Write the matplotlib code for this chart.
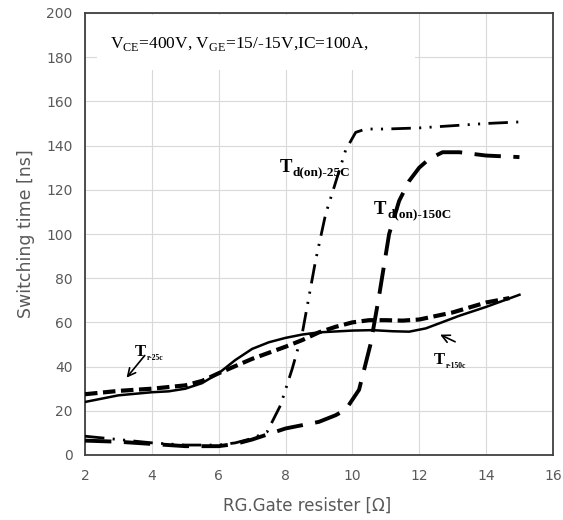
import matplotlib
matplotlib.use("Agg")
import matplotlib.pyplot as plt
from matplotlib.patches import Rectangle

plt.rcParams['lines.scale_dashes'] = False
plt.rcParams['mathtext.fontset'] = 'custom'
plt.rcParams['mathtext.rm'] = 'Liberation Serif'
plt.rcParams['mathtext.bf'] = 'Liberation Serif:bold'

# ---- data ----
td25_x = [2, 3, 4, 5, 6, 6.5, 7, 7.45, 7.85, 8.2, 8.5, 8.9, 9.2, 9.45, 9.8, 10.1, 10.4, 11, 12, 13, 14, 15]
td25_y = [8.5, 7, 5.5, 4.5, 4.5, 5.5, 7.5, 10.5, 22.5, 39, 55, 88, 109, 121, 138, 146, 147.5, 147.5, 148, 149, 150, 150.7]

td150_x = [2, 3, 4, 5, 6, 6.5, 7, 7.5, 8, 9, 9.5, 9.8, 10.2, 10.55, 10.8, 11.1, 11.4, 11.7, 12, 12.3, 12.7, 13.2, 14, 15]
td150_y = [6.5, 6, 5, 4, 4, 5, 7, 9.5, 12, 15, 18, 20.5, 29.5, 50.5, 72, 100, 115, 124, 130, 134, 137, 137, 135.5, 134.8]

tr25_x = [2, 3, 4, 5, 5.5, 6, 7, 8, 8.5, 9, 9.5, 10, 10.5, 11, 11.5, 12, 13, 14, 14.7]
tr25_y = [27.5, 29, 30, 31.5, 33.5, 37, 43.5, 49, 52, 55.5, 58, 60, 61, 61, 60.8, 61.3, 64.5, 69, 71]

tr150_x = [2, 3, 4, 4.5, 5, 5.5, 6, 6.5, 7, 7.5, 8, 8.5, 9, 10, 10.6, 11.2, 11.7, 12.2, 13.2, 14, 15]
tr150_y = [24, 27, 28.4, 28.8, 30, 32.5, 37, 43, 48, 51, 53, 54.5, 55.5, 56.3, 56.5, 56, 55.8, 57.3, 63, 67, 72.5]

x_ticks = [2, 4, 6, 8, 10, 12, 14, 16]
y_ticks = [0, 20, 40, 60, 80, 100, 120, 140, 160, 180, 200]

fig = plt.figure(figsize=(5.63, 5.2), dpi=100)
ax = fig.add_axes([0.151, 0.125, 0.831, 0.85])
ax.set_xlim(2, 16)
ax.set_ylim(0, 200)
ax.set_xticks(x_ticks)
ax.set_yticks(y_ticks)
ax.grid(True, color='#d9d9d9', lw=0.8)
ax.set_axisbelow(True)
ax.tick_params(length=0, labelsize=10, labelcolor='#595959')
ax.tick_params(axis='x', pad=10)
ax.tick_params(axis='y', pad=9)
for s in ax.spines.values():
    s.set_color('#404040')
    s.set_linewidth(1.3)

# white background behind the condition text (hides grid there)
ax.add_patch(Rectangle((0.026, 0.871), 0.68, 0.125, transform=ax.transAxes,
                       facecolor='white', edgecolor='none', zorder=1.5))

k = 'black'
l1, = ax.plot(td25_x, td25_y, color=k, lw=2.0, zorder=3)
l1.set_dashes([14, 6, 1.5, 6, 1.5, 6])
l2, = ax.plot(td150_x, td150_y, color=k, lw=2.8, zorder=3)
l2.set_dashes([19, 9])
l3, = ax.plot(tr25_x, tr25_y, color=k, lw=3.0, zorder=3)
l3.set_dashes([9, 4])
ax.plot(tr150_x, tr150_y, color=k, lw=1.8, zorder=3)

ax.set_ylabel('Switching time [ns]', fontsize=12.5, color='#595959', labelpad=8)
ax.set_xlabel('RG.Gate resister [Ω]', fontsize=12, color='#595959', labelpad=6)
ax.xaxis.set_label_coords(0.475, -0.095)

serif = 'Liberation Serif'
ax.text(2.75, 186, r'V$_{\mathrm{CE}}$=400V, V$_{\mathrm{GE}}$=15/-15V,IC=100A,',
        family=serif, fontsize=12.5, va='center', ha='left', zorder=4)


def label(x, y, main, sub, size, subsize):
    t = ax.text(x, y, main, family=serif, fontweight='bold', fontsize=size,
                va='baseline', ha='left', zorder=4)
    ax.annotate(sub, xy=(1, 0), xycoords=t, xytext=(0.5, -1.5), textcoords='offset points',
                family=serif, fontweight='bold', fontsize=subsize, va='bottom', ha='left', zorder=4)


label(7.82, 128, 'T', 'd(on)-25C', 13.5, 9.5)
label(10.65, 109, 'T', 'd(on)-150C', 13.5, 9.5)
label(3.5, 45, 'T', 'r-25c', 12, 5.5)
label(12.45, 41, 'T', 'r-150c', 12, 5.5)

ax.annotate('', xy=(3.19, 34), xytext=(3.84, 46),
            arrowprops=dict(arrowstyle='->', lw=1.2, color=k, mutation_scale=14), zorder=4)
ax.annotate('', xy=(12.55, 55), xytext=(13.15, 50.7),
            arrowprops=dict(arrowstyle='->', lw=1.2, color=k, mutation_scale=14), zorder=4)

fig.savefig('out.png', dpi=100)
